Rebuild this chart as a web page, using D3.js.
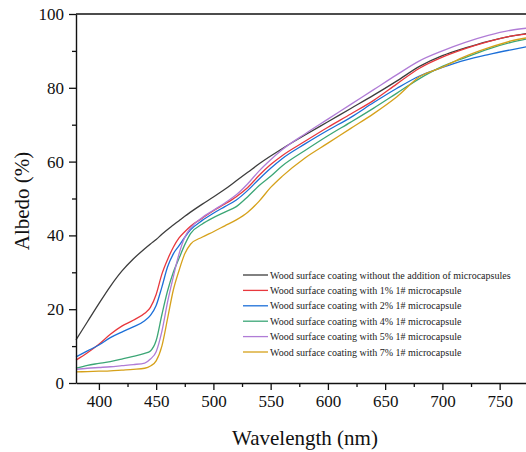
<!DOCTYPE html>
<html>
<head>
<meta charset="utf-8">
<script src="https://cdn.jsdelivr.net/npm/d3@7"></script>
<style>
  body { margin: 0; background: #fff; }
  text { font-family: "Liberation Serif", "Times New Roman", serif; }
</style>
</head>
<body>
<div id="chart"></div>
<script>
// wavelengths (nm) and albedo (%) per coating
const wavelengths = [380, 390, 400, 410, 420, 430, 440, 445, 450, 455, 460, 465, 470, 475, 480, 490, 500, 510, 520, 530, 540, 550, 560, 580, 600, 620, 640, 660, 680, 700, 720, 740, 760, 775];

const noMicro = [11.7, 16.6, 21.5, 26.2, 30.3, 33.6, 36.4, 37.7, 38.9, 40.3, 41.6, 42.8, 44.0, 45.2, 46.3, 48.4, 50.4, 52.5, 54.8, 57.1, 59.4, 61.5, 63.5, 67.2, 70.8, 74.4, 78.0, 81.8, 85.8, 88.7, 90.8, 92.6, 94.0, 94.8];
const pct1 = [6.2, 8.2, 10.5, 13.2, 15.4, 17.0, 18.9, 20.5, 24.0, 29.5, 33.5, 36.8, 39.3, 41.0, 42.5, 44.6, 46.7, 48.5, 50.5, 53.0, 56.3, 59.2, 61.6, 65.5, 69.3, 72.9, 76.6, 81.0, 85.3, 88.3, 90.6, 92.5, 94.0, 94.6];
const pct2 = [7.1, 8.7, 10.3, 12.3, 13.8, 15.2, 16.9, 18.3, 21.0, 26.0, 31.5, 35.0, 37.2, 39.5, 41.5, 44.0, 46.0, 47.8, 49.6, 52.2, 55.3, 58.2, 60.8, 64.8, 68.5, 72.0, 76.0, 79.8, 83.2, 85.5, 87.5, 89.0, 90.3, 91.2];
const pct4 = [4.0, 4.8, 5.3, 5.8, 6.5, 7.2, 8.0, 8.7, 11.5, 18.5, 25.0, 30.0, 33.8, 37.5, 40.5, 43.0, 44.8, 46.3, 47.8, 50.5, 53.5, 56.0, 58.8, 63.0, 67.0, 70.7, 74.5, 78.5, 82.5, 85.8, 88.2, 90.5, 92.3, 93.3];
const pct5 = [3.7, 4.0, 4.2, 4.4, 4.7, 5.0, 5.4, 6.5, 8.5, 14.0, 22.0, 28.8, 35.0, 39.5, 42.0, 44.8, 46.8, 48.8, 51.0, 54.0, 57.5, 60.5, 63.2, 67.5, 71.5, 75.5, 79.5, 83.5, 87.3, 90.0, 92.3, 94.2, 95.6, 96.2];
const pct7 = [3.0, 3.1, 3.2, 3.3, 3.5, 3.7, 4.0, 4.6, 6.0, 10.0, 17.5, 25.2, 30.5, 35.0, 37.6, 39.5, 41.0, 42.6, 44.2, 46.3, 49.3, 53.0, 56.0, 61.0, 65.0, 69.0, 73.0, 77.5, 83.0, 85.6, 88.5, 90.8, 92.7, 93.6];

const seriesNames = [
    "Wood surface coating without the addition of microcapsules",
    "Wood surface coating with 1% 1# microcapsule",
    "Wood surface coating with 2% 1# microcapsule",
    "Wood surface coating with 4% 1# microcapsule",
    "Wood surface coating with 5% 1# microcapsule",
    "Wood surface coating with 7% 1# microcapsule"
];
const seriesValues = [noMicro, pct1, pct2, pct4, pct5, pct7];
const colors = ["#3d3d3d", "#e8383d", "#1c6fd8", "#3ca676", "#b07cd6", "#d6a11a"];

const xTicks = [400, 450, 500, 550, 600, 650, 700, 750];
const yTicks = [0, 20, 40, 60, 80, 100];

const width = 526, height = 452;
const svg = d3.select("#chart").append("svg")
    .attr("width", width)
    .attr("height", height);

const x = d3.scaleLinear().domain([380, 780]).range([76, 534]);
const y = d3.scaleLinear().domain([0, 100]).range([383, 14]);

// curves
const line = d3.line()
    .x((d, i) => x(wavelengths[i]))
    .y(d => y(d))
    .curve(d3.curveMonotoneX);

svg.selectAll(".curve")
    .data(seriesValues)
    .enter()
    .append("path")
    .attr("class", "curve")
    .attr("fill", "none")
    .attr("stroke", (d, i) => colors[i])
    .attr("stroke-width", 1.3)
    .attr("d", line);

// minor ticks
svg.append("g")
    .attr("transform", "translate(0,383)")
    .call(d3.axisBottom(x).tickValues(d3.range(425, 780, 50)).tickSize(4).tickFormat(""))
    .call(g => g.select(".domain").remove());
svg.append("g")
    .attr("transform", "translate(76,0)")
    .call(d3.axisLeft(y).tickValues(d3.range(10, 100, 20)).tickSize(4).tickFormat(""))
    .call(g => g.select(".domain").remove());

// major axes
const xAxis = svg.append("g")
    .attr("transform", "translate(0,383)")
    .call(d3.axisBottom(x).tickValues(xTicks).tickSize(7).tickPadding(5).tickSizeOuter(0));
const yAxis = svg.append("g")
    .attr("transform", "translate(76,0)")
    .call(d3.axisLeft(y).tickValues(yTicks).tickSize(7).tickPadding(5).tickSizeOuter(0));

[xAxis, yAxis].forEach(g => {
    g.selectAll("text").attr("font-size", 17).attr("fill", "#111")
        .style("font-family", "'Liberation Serif', serif");
    g.selectAll("line, path").attr("stroke", "#111").attr("stroke-width", 1.4);
});
svg.selectAll("g line").attr("stroke", "#111").attr("stroke-width", 1.3);

// top frame
svg.append("line")
    .attr("x1", x(380)).attr("x2", x(780))
    .attr("y1", y(100)).attr("y2", y(100))
    .attr("stroke", "#111").attr("stroke-width", 1.4);

// axis titles
svg.append("text")
    .attr("x", 305).attr("y", 445)
    .attr("text-anchor", "middle")
    .attr("font-size", 21)
    .attr("fill", "#111")
    .text("Wavelength (nm)");

svg.append("text")
    .attr("transform", "translate(29,201) rotate(-90)")
    .attr("text-anchor", "middle")
    .attr("font-size", 21)
    .attr("fill", "#111")
    .text("Albedo (%)");

// legend
const legend = svg.append("g");
seriesNames.forEach((name, i) => {
    const ly = 275 + i * 15.4;
    legend.append("line")
        .attr("x1", 243).attr("x2", 268)
        .attr("y1", ly).attr("y2", ly)
        .attr("stroke", colors[i]).attr("stroke-width", 1.3);
    legend.append("text")
        .attr("x", 270).attr("y", ly + 3.5)
        .attr("font-size", 10)
        .attr("fill", "#222")
        .text(name);
});
</script>
</body>
</html>
